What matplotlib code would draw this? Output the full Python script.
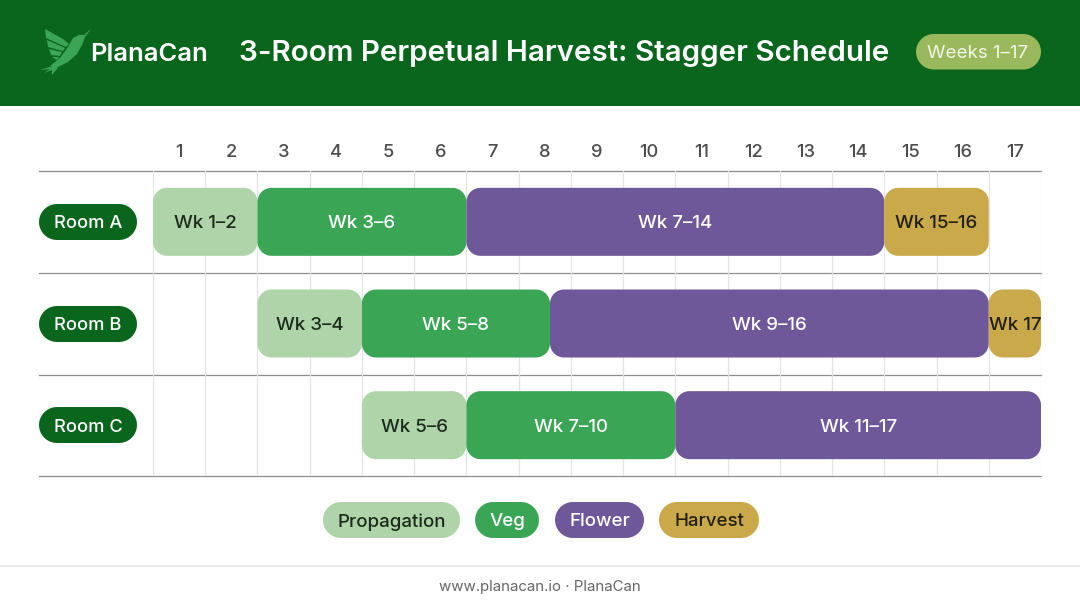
import numpy as np
import matplotlib
matplotlib.use("Agg")
import matplotlib.pyplot as plt
from matplotlib.patches import Polygon, Rectangle

plt.rcParams['font.family'] = ['Inter', 'DejaVu Sans']

# du lieu doc tu hinh
weeks = list(range(1, 18))
rooms = ["Room A", "Room B", "Room C"]
room_a_start = [0, 2, 6, 14]
room_a_end = [2, 6, 14, 16]
room_a_text = ["Wk 1–2", "Wk 3–6", "Wk 7–14", "Wk 15–16"]
room_b_start = [2, 4, 7.6, 16]
room_b_end = [4, 7.6, 16, 17]
room_b_text = ["Wk 3–4", "Wk 5–8", "Wk 9–16", "Wk 17"]
room_c_start = [4, 6, 10]
room_c_end = [6, 10, 17]
room_c_text = ["Wk 5–6", "Wk 7–10", "Wk 11–17"]
phases = ["Propagation", "Veg", "Flower", "Harvest"]
phase_colors = ["#b0d4aa", "#3aa655", "#6f5899", "#c9a94a"]
phase_text = ["#1c2a1c", "white", "white", "#22200f"]

W, H = 1080, 603
GREEN = "#0a651d"

fig = plt.figure(figsize=(W / 100, H / 100), dpi=100, facecolor="white")

# lop nen theo pixel: header, nhan, legend, footer
bg = fig.add_axes([0, 0, 1, 1])
bg.set_xlim(0, W)
bg.set_ylim(H, 0)
bg.axis("off")


def round_box(x0, y0, x1, y1, rx, ry):
    # goc tron that, boxstyle round cua matplotlib bi vuong qua
    t = np.linspace(0, np.pi / 2, 12)
    pts = []
    for cx, cy, a in [(x1 - rx, y1 - ry, 0), (x0 + rx, y1 - ry, np.pi / 2),
                      (x0 + rx, y0 + ry, np.pi), (x1 - rx, y0 + ry, 3 * np.pi / 2)]:
        pts.append(np.column_stack([cx + rx * np.cos(t + a), cy + ry * np.sin(t + a)]))
    return np.vstack(pts)


def pill(x0, y0, x1, y1, color, z=3):
    r = (y1 - y0) / 2
    bg.add_patch(Polygon(round_box(x0, y0, x1, y1, r, r), closed=True, fc=color, ec="none", zorder=z))


bg.add_patch(Rectangle((0, 0), W, 105.5, fc=GREEN, ec="none"))

# logo chim
LOGO = "#3aa655"
bird = [
    [(60, 58), (68, 47), (73, 38), (79, 35), (84, 35), (91, 29), (85, 37), (82, 45), (77, 54), (68, 62), (58, 67), (50, 66)],
    [(45, 29), (63, 39), (69, 44), (66, 47), (46, 38)],
    [(47, 40), (65, 48), (63, 51), (48, 47)],
    [(49, 49), (62, 52), (60, 56), (51, 55)],
    [(52, 57), (59, 57), (57, 60)],
    [(59, 64), (40, 70), (50, 69), (44, 73), (52, 70), (52, 75), (57, 69)],
]
for pts in bird:
    bg.add_patch(Polygon(pts, closed=True, fc=LOGO, ec="none", zorder=3))

bg.text(90, 54.5, "PlanaCan", color="white", fontsize=18.4, fontweight="semibold", va="center", ha="left")
bg.text(564, 53.5, "3-Room Perpetual Harvest: Stagger Schedule", color="white", fontsize=21.3,
        fontweight="semibold", va="center", ha="center")
pill(916, 34, 1041, 69.5, "#9ab85c")
bg.text(978, 54, "Weeks 1–17", color="#f2f6e6", fontsize=13.5, va="center", ha="center")

# legend
legend_x0 = [323, 475, 555, 659]
legend_x1 = [460, 539, 644, 759]
for name, c, tc, x0, x1 in zip(phases, phase_colors, phase_text, legend_x0, legend_x1):
    pill(x0, 502, x1, 538, c)
    bg.text((x0 + x1) / 2, 522, name, color=tc, fontsize=13.5, fontweight="medium", va="center", ha="center")

# footer
bg.plot([0, W], [565.5, 565.5], color="#e4e4e4", lw=1.1)
bg.text(540, 587, "www.planacan.io · PlanaCan", color="#666666", fontsize=10.8, va="center", ha="center")

# nhan phong
row_y = [222, 324, 425]
for name, y in zip(rooms, row_y):
    pill(39, y - 18, 137, y + 18, GREEN)
    bg.text(88, y + 2, name, color="white", fontsize=13.2, fontweight="medium", va="center", ha="center")

# duong ngang
for y in [171, 273, 375, 476]:
    bg.plot([39, 1041], [y, y], color="#8f8f8f", lw=0.9, zorder=1)

# truc bieu do: x = tuan, y = phong
left, right, top, bottom = 153, 1041, 171, 476
ax = fig.add_axes([left / W, 1 - bottom / H, (right - left) / W, (bottom - top) / H])
ax.set_xlim(0, 17)
ax.set_ylim(3, 0)
ax.patch.set_alpha(0)
for s in ax.spines.values():
    s.set_visible(False)
ax.set_yticks([])
ax.set_xticks([w - 0.5 for w in weeks])
ax.set_xticklabels(weeks, fontsize=13.2, fontweight="medium", color="#4d4d4d")
ax.xaxis.tick_top()
ax.tick_params(axis="x", length=0, pad=7)

for i in range(18):
    ax.axvline(i, color="#e4e4e4", lw=0.9, zorder=1)

x_px = (right - left) / 17
y_px = (bottom - top) / 3
rows = [
    (room_a_start, room_a_end, room_a_text, [0, 1, 2, 3]),
    (room_b_start, room_b_end, room_b_text, [0, 1, 2, 3]),
    (room_c_start, room_c_end, room_c_text, [0, 1, 2]),
]
bar_h = 68 / y_px
for i, (starts, ends, texts, idx) in enumerate(rows):
    y0 = i + (1 - bar_h) / 2
    for s, e, t, k in zip(starts, ends, texts, idx):
        ax.add_patch(Polygon(round_box(s, y0, e, y0 + bar_h, 14 / x_px, 14 / y_px), closed=True,
                             fc=phase_colors[k], ec="none", zorder=3, clip_on=False))
        ax.text((s + e) / 2, i + 0.5 + 2 / y_px, t, color=phase_text[k], fontsize=13.5, fontweight="medium",
                va="center", ha="center", zorder=4)

fig.savefig("out.png", dpi=100)
